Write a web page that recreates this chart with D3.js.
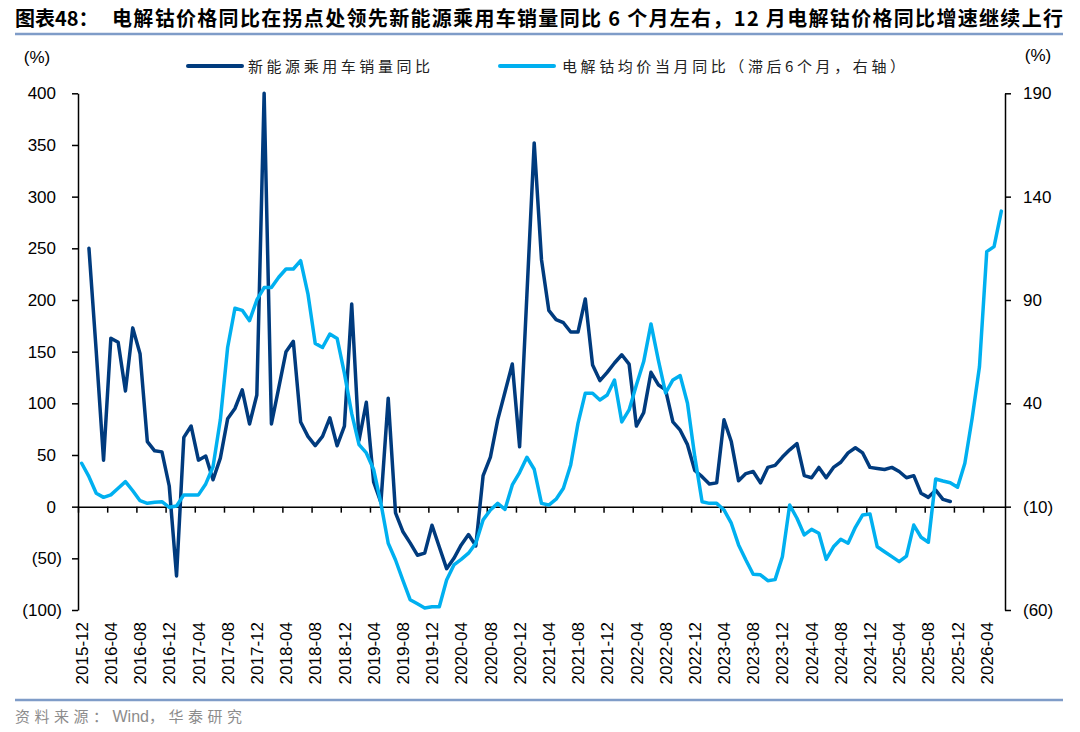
<!DOCTYPE html>
<html>
<head>
<meta charset="utf-8">
<script src="https://cdn.jsdelivr.net/npm/d3@7"></script>
<style>
  body { margin: 0; background: #fff; }
  .tick text { font-family: "Liberation Sans", Arial, sans-serif; font-size: 17px; fill: #000; }
</style>
</head>
<body>
<div id="chart"></div>
<script>
// monthly categories, 2015-12 .. 2026-06
var months = [
  "2015-12",
  "2016-01","2016-02","2016-03","2016-04","2016-05","2016-06","2016-07","2016-08","2016-09","2016-10","2016-11","2016-12",
  "2017-01","2017-02","2017-03","2017-04","2017-05","2017-06","2017-07","2017-08","2017-09","2017-10","2017-11","2017-12",
  "2018-01","2018-02","2018-03","2018-04","2018-05","2018-06","2018-07","2018-08","2018-09","2018-10","2018-11","2018-12",
  "2019-01","2019-02","2019-03","2019-04","2019-05","2019-06","2019-07","2019-08","2019-09","2019-10","2019-11","2019-12",
  "2020-01","2020-02","2020-03","2020-04","2020-05","2020-06","2020-07","2020-08","2020-09","2020-10","2020-11","2020-12",
  "2021-01","2021-02","2021-03","2021-04","2021-05","2021-06","2021-07","2021-08","2021-09","2021-10","2021-11","2021-12",
  "2022-01","2022-02","2022-03","2022-04","2022-05","2022-06","2022-07","2022-08","2022-09","2022-10","2022-11","2022-12",
  "2023-01","2023-02","2023-03","2023-04","2023-05","2023-06","2023-07","2023-08","2023-09","2023-10","2023-11","2023-12",
  "2024-01","2024-02","2024-03","2024-04","2024-05","2024-06","2024-07","2024-08","2024-09","2024-10","2024-11","2024-12",
  "2025-01","2025-02","2025-03","2025-04","2025-05","2025-06","2025-07","2025-08","2025-09","2025-10","2025-11","2025-12",
  "2026-01","2026-02","2026-03","2026-04","2026-05","2026-06"
];

var tickLabels = [
  "2015-12","2016-04","2016-08","2016-12","2017-04","2017-08","2017-12","2018-04",
  "2018-08","2018-12","2019-04","2019-08","2019-12","2020-04","2020-08","2020-12",
  "2021-04","2021-08","2021-12","2022-04","2022-08","2022-12","2023-04","2023-08",
  "2023-12","2024-04","2024-08","2024-12","2025-04","2025-08","2025-12","2026-04"
];

var leftTicks = [-100, -50, 0, 50, 100, 150, 200, 250, 300, 350, 400];
var rightTicks = [-60, -10, 40, 90, 140, 190];

// 新能源乘用车销量同比 (left axis, %)
var nevSales = [
  null,
  250, 150, 45, 163, 159, 112, 173, 148, 63, 54, 53, 20,
  -67, 67, 78, 45, 49, 26, 47, 85, 95, 113, 80, 108,
  400, 80, 115, 150, 160, 82, 68, 59, 68, 86, 59, 78,
  196, 64, 101, 24, 4, 105, -6, -24, -35, -47, -45, -18,
  -39, -60, -50, -37, -27, -38, 30, 48, 84, 111, 138, 58,
  205, 352, 239, 190, 181, 178, 169, 169, 201, 137, 122, 130,
  139, 147, 138, 78, 91, 130, 118, 113, 82, 74, 60, 35,
  29, 22, 23, 84, 63, 25, 32, 34, 23, 38, 40, 48,
  55, 61, 30, 28, 38, 28, 38, 43, 52, 57, 52, 38,
  37, 36, 38, 34, 28, 30, 13, 9, 16, 7, 5, null,
  null, null, null, null, null, null
];

// 电解钴均价当月同比, lagged 6 months (right axis, %)
var cobaltPrice = [
  11,
  4.5, -3.5, -5.5, -4.3, -1.1, 2.1, -2.3, -7.1, -8.4, -7.9, -7.6, -10.3,
  -9.7, -4.3, -4.3, -4.3, 1, 9.3, 32, 67, 86, 85, 80, 90,
  96, 96, 101, 105, 105, 109, 93, 69, 67, 73.5, 71.4, 54.5,
  35, 20, 16, 8, -8.4, -27.7, -35.8, -45.5, -55, -57, -59, -58.4,
  -58.4, -45.5, -38.2, -35.5, -32.5, -27.7, -16.4, -11.6, -8.4, -11.3, 0.5, 6.5,
  13.9, 8.1, -8.4, -9.2, -6.4, -1.1, 10.2, 30.3, 44.9, 44.9, 41.6, 44,
  51.3, 31, 36.8, 48.9, 60.2, 78.4, 61, 45, 51.3, 53.4, 40, 14.2,
  -7.6, -8.4, -8.4, -11.6, -18, -28.5, -35.8, -42.7, -43, -45.8, -45.3, -34.2,
  -9.2, -15.6, -23.7, -21, -22.9, -35.5, -29.4, -25.8, -27.7, -20, -14, -13.5,
  -29.4, -31.8, -34.2, -36.6, -33.9, -18.9, -24.8, -27.2, 3.4, 2.4, 1.6, -0.6,
  11, 32.8, 57.7, 113.4, 115.8, 133
];

var seriesNames = ["新能源乘用车销量同比", "电解钴均价当月同比（滞后6个月，右轴）"];
var colors = ["#003b7e", "#00b0f0"];

var width = 1080, height = 732;
var margin = {left: 78, right: 1005, top: 93.3, bottom: 610};
var cjk = "'Noto Sans CJK SC', 'Noto Sans', sans-serif";
var latin = "'Liberation Sans', Arial, sans-serif";

var svg = d3.select("#chart").append("svg")
    .attr("width", width)
    .attr("height", height);

var xScale = d3.scaleBand()
    .domain(months)
    .range([margin.left, margin.right])
    .padding(0);
var xEdge = d3.scaleLinear()
    .domain([0, months.length])
    .range([margin.left, margin.right]);

var yLeft = d3.scaleLinear().domain([-100, 400]).range([margin.bottom, margin.top]);
var yRight = d3.scaleLinear().domain([-60, 190]).range([margin.bottom, margin.top]);

// title
svg.append("text")
    .attr("x", 15).attr("y", 26)
    .style("font-family", cjk).style("font-weight", "bold").style("font-size", "20px")
    .text("图表48：");
svg.append("text")
    .attr("x", 112).attr("y", 26)
    .attr("textLength", 951).attr("lengthAdjust", "spacing")
    .style("font-family", cjk).style("font-weight", "bold").style("font-size", "20px")
    .text("电解钴价格同比在拐点处领先新能源乘用车销量同比 6 个月左右，12 月电解钴价格同比增速继续上行");
svg.append("line")
    .attr("x1", 15).attr("x2", 1063).attr("y1", 34).attr("y2", 34)
    .attr("stroke", "#7f9cc8").attr("stroke-width", 2.5);

// unit labels
svg.append("text").attr("x", 37).attr("y", 63).attr("text-anchor", "middle")
    .style("font-family", latin).style("font-size", "17px").text("(%)");
svg.append("text").attr("x", 1038).attr("y", 61).attr("text-anchor", "middle")
    .style("font-family", latin).style("font-size", "17px").text("(%)");

// legend
var legend = [
  {x1: 188, x2: 242, tx: 248, len: 182},
  {x1: 500, x2: 554, tx: 562, len: 343}
];
legend.forEach(function(l, i){
    svg.append("line")
        .attr("x1", l.x1).attr("x2", l.x2).attr("y1", 66).attr("y2", 66)
        .attr("stroke", colors[i]).attr("stroke-width", 4).attr("stroke-linecap", "round");
    svg.append("text")
        .attr("x", l.tx).attr("y", 72)
        .attr("textLength", l.len).attr("lengthAdjust", "spacing")
        .style("font-family", cjk).style("font-size", "15px").style("fill", "#222")
        .text(seriesNames[i]);
});

function fmt(d){ return d < 0 ? "(" + Math.abs(d) + ")" : String(d); }

// left axis
var gL = svg.append("g")
    .attr("transform", `translate(${margin.left},0)`)
    .call(d3.axisLeft(yLeft).tickValues(leftTicks).tickSize(6).tickSizeOuter(0).tickFormat(fmt));
gL.selectAll("text")
    .attr("x", function(d){ return d < 0 ? -16 : -22; })
    .style("font-family", latin);

// right axis
var gR = svg.append("g")
    .attr("transform", `translate(${margin.right},0)`)
    .call(d3.axisRight(yRight).tickValues(rightTicks).tickSize(6).tickSizeOuter(0).tickFormat(fmt));
gR.selectAll("text").attr("x", 18).style("font-family", latin);

// category axis line at zero with ticks every 4 months
var tickIdx = tickLabels.map(function(m){ return months.indexOf(m); });
svg.append("g")
    .attr("transform", `translate(0,${yLeft(0)})`)
    .call(d3.axisBottom(xEdge).tickValues(tickIdx).tickSize(6).tickSizeOuter(0).tickFormat(""));

// rotated labels at bottom
var gX = svg.append("g")
    .attr("transform", `translate(0,${margin.bottom})`)
    .call(d3.axisBottom(xScale).tickValues(tickLabels).tickSize(0));
gX.select(".domain").remove();
gX.selectAll("text")
    .attr("transform", "rotate(-90)")
    .attr("x", -12).attr("y", 0).attr("dy", "0.36em")
    .style("text-anchor", "end")
    .style("font-family", latin);

svg.selectAll(".domain, .tick line").attr("stroke", "#000").attr("stroke-width", 1.5);

// series
var half = xScale.bandwidth() / 2;
var lineLeft = d3.line()
    .defined(function(d){ return d[1] != null; })
    .x(function(d){ return xScale(d[0]) + half; })
    .y(function(d){ return yLeft(d[1]); });
var lineRight = d3.line()
    .defined(function(d){ return d[1] != null; })
    .x(function(d){ return xScale(d[0]) + half; })
    .y(function(d){ return yRight(d[1]); });

svg.append("path")
    .datum(months.map(function(m, i){ return [m, nevSales[i]]; }))
    .attr("d", lineLeft)
    .attr("fill", "none").attr("stroke", colors[0]).attr("stroke-width", 3.5)
    .attr("stroke-linejoin", "round").attr("stroke-linecap", "round");

svg.append("path")
    .datum(months.map(function(m, i){ return [m, cobaltPrice[i]]; }))
    .attr("d", lineRight)
    .attr("fill", "none").attr("stroke", colors[1]).attr("stroke-width", 3.5)
    .attr("stroke-linejoin", "round").attr("stroke-linecap", "round");

// footer
svg.append("line")
    .attr("x1", 15).attr("x2", 1063).attr("y1", 700).attr("y2", 700)
    .attr("stroke", "#7f9cc8").attr("stroke-width", 2.5);
var src = svg.append("text")
    .attr("x", 15).attr("y", 722)
    .style("font-family", cjk).style("font-size", "15px").style("fill", "#8c8c8c");
src.append("tspan").style("letter-spacing", "4.5px").text("资料来源：");
src.append("tspan").style("font-family", latin).style("font-size", "16px").text("Wind");
src.append("tspan").style("letter-spacing", "4.5px").text("，华泰研究");
</script>
</body>
</html>
